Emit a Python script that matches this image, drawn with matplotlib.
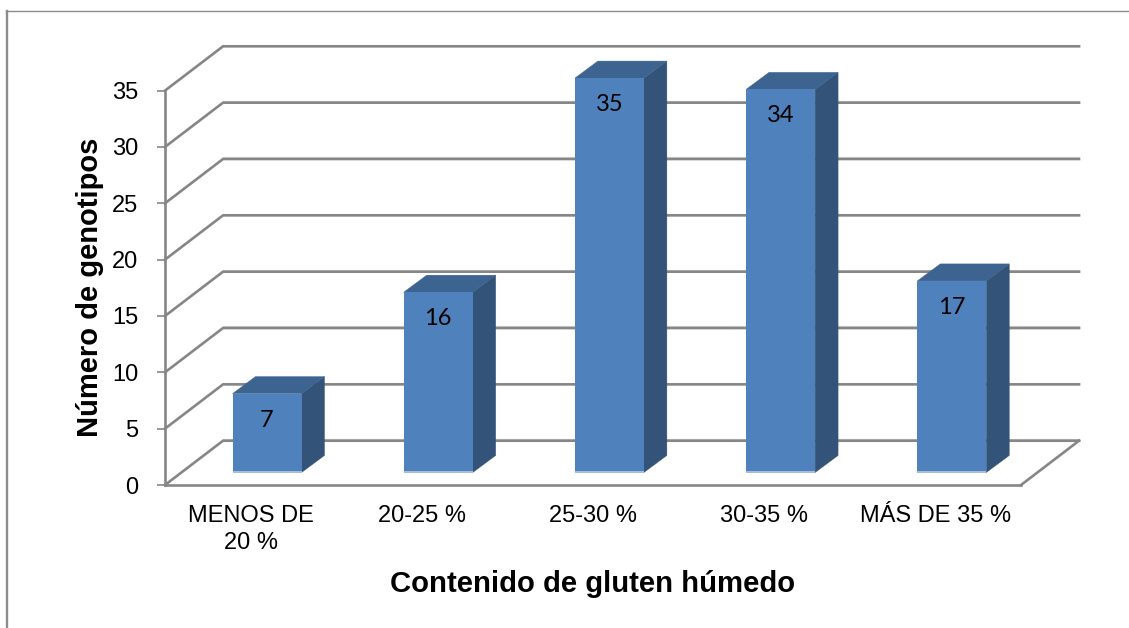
import matplotlib
matplotlib.use("Agg")
import matplotlib.pyplot as plt
from matplotlib.lines import Line2D
from matplotlib.patches import Polygon

categories = ["MENOS DE\n20 %", "20-25 %", "25-30 %", "30-35 %", "MÁS DE 35 %"]
genotypes = [7, 16, 35, 34, 17]
y_ticks = [0, 5, 10, 15, 20, 25, 30, 35]

W, H = 1129, 628
GRID = "#868686"
FRONT, TOP, SIDE, BASE = "#4F81BD", "#3D6490", "#335379", "#A6BEDC"

# Oblique projection, in data units: wall depth and column depth
WALL_DX, WALL_DY = 0.339, 3.93
COL_SHIFT_X, COL_SHIFT_Y = 0.096, 1.11
COL_DX, COL_DY = 0.134, 1.51
COL_W = 0.403

plt.rcParams["font.family"] = ["Liberation Sans", "DejaVu Sans"]
fig = plt.figure(figsize=(W / 100, H / 100), dpi=100, facecolor="white")
ax = fig.add_axes([165 / W, 1 - 485 / H, 856 / W, 394.4 / H])
ax.set_xlim(-0.5, 4.5)
ax.set_ylim(0, 35)
ax.patch.set_visible(False)

# Outer chart frame
fig.add_artist(Line2D([7 / W, 7 / W], [0, 1 - 10.5 / H], color="#8C8C8C", lw=1.7))
fig.add_artist(Line2D([6 / W, 1], [1 - 10.5 / H, 1 - 10.5 / H], color="#8C8C8C", lw=1.0))

# Wall gridlines with their diagonal returns to the front axis
x_left, x_right = -0.5, 4.5
for v in y_ticks:
    ax.plot([x_left + WALL_DX, x_right + WALL_DX], [v + WALL_DY + 0.14] * 2,
            color="#D9D9D9", lw=0.8, clip_on=False, zorder=1)
    ax.plot([x_left, x_left + WALL_DX, x_right + WALL_DX],
            [v, v + WALL_DY, v + WALL_DY],
            color=GRID, lw=1.9, clip_on=False, zorder=2, solid_joinstyle="miter")
ax.plot([x_right, x_right + WALL_DX], [0, WALL_DY], color=GRID, lw=1.9,
        clip_on=False, zorder=2)

# Columns: side and top faces, then the front face with its pale lower edge
positions = list(range(len(categories)))
lefts = [p + COL_SHIFT_X - COL_W / 2 for p in positions]
for left, value in zip(lefts, genotypes):
    right = left + COL_W
    low, high = COL_SHIFT_Y, COL_SHIFT_Y + value
    ax.add_patch(Polygon([(right, low), (right + COL_DX, low + COL_DY),
                          (right + COL_DX, high + COL_DY), (right, high)],
                         closed=True, fc=SIDE, ec=SIDE, lw=0.3, clip_on=False, zorder=3))
    ax.add_patch(Polygon([(left, high), (left + COL_DX, high + COL_DY),
                          (right + COL_DX, high + COL_DY), (right, high)],
                         closed=True, fc=TOP, ec=TOP, lw=0.3, clip_on=False, zorder=3))
ax.bar([p + COL_SHIFT_X for p in positions], genotypes, COL_W, bottom=COL_SHIFT_Y,
       color=FRONT, clip_on=False, zorder=4)
ax.bar([p + COL_SHIFT_X for p in positions], [0.2] * len(genotypes), COL_W,
       bottom=COL_SHIFT_Y - 0.04, color=BASE, linewidth=0, clip_on=False, zorder=5)

for p, value in zip(positions, genotypes):
    ax.annotate(str(value), (p + COL_SHIFT_X, COL_SHIFT_Y + value), xytext=(0, -19),
                textcoords="offset points", ha="center", va="center",
                fontsize=17, family=["Lato", "DejaVu Sans"], color="black", zorder=6,
                annotation_clip=False)

for name in ("top", "right"):
    ax.spines[name].set_visible(False)
for name in ("left", "bottom"):
    ax.spines[name].set_color(GRID)
    ax.spines[name].set_linewidth(1.9)
    ax.spines[name].set_zorder(2)

ax.set_yticks(y_ticks)
ax.set_xticks(positions)
ax.set_xticklabels(categories, fontsize=17, linespacing=1.3)
ax.tick_params(axis="x", length=0, pad=14.5)
ax.tick_params(axis="y", length=6, width=1.2, color=GRID, pad=13, labelsize=17)

ax.set_xlabel("Contenido de gluten húmedo", fontsize=21.1, fontweight="bold", labelpad=11.5)
ax.set_ylabel("Número de genotipos", fontsize=21, fontweight="bold")
ax.yaxis.set_label_coords((104 - 165) / 856, 0.5)

fig.savefig("out.png", dpi=100)
